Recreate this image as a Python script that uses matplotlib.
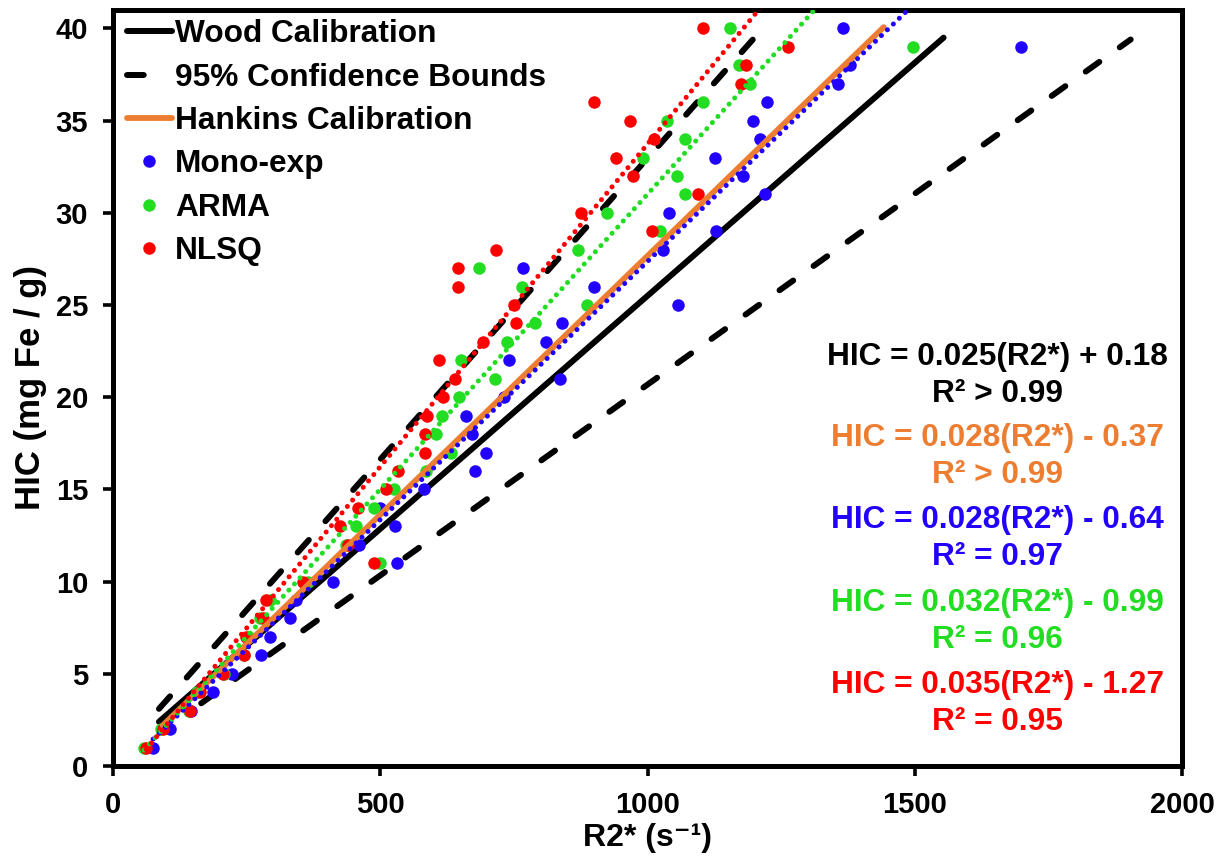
import matplotlib
matplotlib.use("Agg")
import matplotlib.pyplot as plt
from matplotlib.lines import Line2D
import numpy as np

plt.rcParams['font.family'] = ['Liberation Sans', 'DejaVu Sans']
plt.rcParams['font.weight'] = 'bold'

# ---------------- data ----------------
hic = list(range(40, 0, -1))  # 40 ... 1 (mg Fe / g)

mono_exp_r2 = [1365, 1699, 1378, 1356, 1223, 1197, 1210, 1126, 1178, 1219,
               1040, 1128, 1029, 767, 900, 1057, 840, 811, 741, 837,
               732, 661, 672, 698, 678, 581, 499, 527, 461, 532,
               411, 342, 331, 293, 276, 222, 187, 146, 106, 75]
arma_r2 = [1154, 1496, 1172, 1191, 1104, 1036, 1070, 992, 1055, 1070,
           924, 1023, 870, 684, 766, 887, 790, 737, 651, 714,
           648, 616, 605, 633, 586, 525, 489, 454, 435, 500,
           364, 293, 275, 255, 245, 208, 158, 143, 90, 58]
nlsq_r2 = [1104, 1262, 1185, 1175, 899, 967, 1012, 941, 973, 1094,
           876, 1008, 717, 646, 646, 751, 754, 693, 609, 639,
           618, 588, 583, 584, 534, 510, 458, 424, 439, 489,
           356, 286, 280, 248, 245, 205, 162, 144, 93, 62]

# calibration lines (end points)
wood_x = [86, 1554]
wood_y = [2.4, 39.5]
upper_x = [86, 1217]
upper_y = [3.1, 40.05]
lower_x = [165, 1904]
lower_y = [3.4, 39.4]
hankins_x = [93, 1442]
hankins_y = [2.2, 40.07]

# trendline coefficients (slope, intercept)
fit_mono = (0.028, -0.64)
fit_arma = (0.032, -0.99)
fit_nlsq = (0.035, -1.27)

labels = ["Wood Calibration", "95% Confidence Bounds", "Hankins Calibration",
          "Mono-exp", "ARMA", "NLSQ"]
eq_texts = [("HIC = 0.025(R2*) + 0.18", "R² > 0.99"),
            ("HIC = 0.028(R2*) - 0.37", "R² > 0.99"),
            ("HIC = 0.028(R2*) - 0.64", "R² = 0.97"),
            ("HIC = 0.032(R2*) - 0.99", "R² = 0.96"),
            ("HIC = 0.035(R2*) - 1.27", "R² = 0.95")]

BLUE = '#2200FF'
GREEN = '#22DD22'
RED = '#FF0000'
ORANGE = '#ED7D31'

# ---------------- figure ----------------
W, H = 1228, 856
fig = plt.figure(figsize=(W / 100, H / 100), dpi=100)
L, R, T, B = 113, 1182, 10, 766
ax = fig.add_axes([L / W, 1 - B / H, (R - L) / W, (B - T) / H])
ax.set_xlim(0, 2000)
ax.set_ylim(0, 41)

lw_black = 4.3
h_wood, = ax.plot(wood_x, wood_y, color='black', lw=lw_black,
                  solid_capstyle='round', zorder=2)
ax.plot(upper_x, upper_y, color='black', lw=lw_black,
        linestyle=(0, (2.8, 4.2)), dash_capstyle='round', zorder=2)
ax.plot(lower_x, lower_y, color='black', lw=lw_black,
        linestyle=(0, (2.8, 4.2)), dash_capstyle='round', zorder=2)
h_bound = Line2D([], [], color='black', lw=lw_black,
                 linestyle=(0, (2.8, 12)), dash_capstyle='round')

ms = 9
h_mono, = ax.plot(mono_exp_r2, hic, 'o', color=BLUE, ms=ms, mew=0, zorder=3)
h_arma, = ax.plot(arma_r2, hic, 'o', color=GREEN, ms=ms, mew=0, zorder=3)
h_nlsq, = ax.plot(nlsq_r2, hic, 'o', color=RED, ms=ms, mew=0, zorder=3)

h_hank, = ax.plot(hankins_x, hankins_y, color=ORANGE, lw=4.2,
                  solid_capstyle='round', zorder=4)

for xs, (m, c), col in [(mono_exp_r2, fit_mono, BLUE),
                        (arma_r2, fit_arma, GREEN),
                        (nlsq_r2, fit_nlsq, RED)]:
    fx = np.array([min(xs), max(xs)], dtype=float)
    ax.plot(fx, m * fx + c, color=col, lw=3.6,
            linestyle=(0, (0.01, 1.65)), dash_capstyle='round', zorder=5)

# axes styling
for s in ax.spines.values():
    s.set_linewidth(3.6)
ax.set_xticks([0, 500, 1000, 1500, 2000])
ax.set_yticks(list(range(0, 41, 5)))
ax.tick_params(axis='both', direction='out', length=7, width=2.6,
               labelsize=21)
ax.tick_params(axis='x', pad=11)
ax.tick_params(axis='y', pad=11)
for lab in ax.get_xticklabels() + ax.get_yticklabels():
    lab.set_fontweight('bold')

ax.set_xlabel("R2* (s⁻¹)", fontsize=23, fontweight='bold', labelpad=3)
ax.set_ylabel("HIC (mg Fe / g)", fontsize=25, fontweight='bold', labelpad=6)

leg = ax.legend([h_wood, h_bound, h_hank, h_mono, h_arma, h_nlsq], labels,
                loc='upper left', bbox_to_anchor=(0.004, 1.0), frameon=False,
                fontsize=22.8, handlelength=1.42, handletextpad=0.1,
                labelspacing=0.42, borderaxespad=0.1, borderpad=0.2,
                markerscale=1.0)
for t in leg.get_texts():
    t.set_fontweight('bold')

# equations
cx = (997 - L) / (R - L)
cols = ['black', ORANGE, BLUE, GREEN, RED]
ys = [357, 438, 520, 603, 685]
for (l1, l2), col, py in zip(eq_texts, cols, ys):
    ax.text(cx, (B - py) / (B - T), l1, transform=ax.transAxes, ha='center',
            va='center', fontsize=22.8, fontweight='bold', color=col)
    ax.text(cx, (B - py - 37) / (B - T), l2, transform=ax.transAxes,
            ha='center', va='center', fontsize=22.8, fontweight='bold',
            color=col)

fig.savefig("out.png", dpi=100)
